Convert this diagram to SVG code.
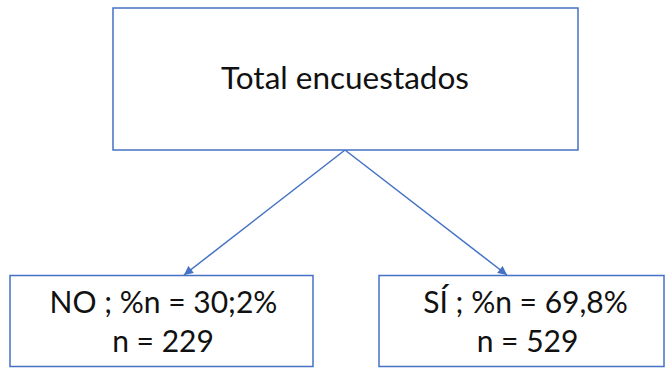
<svg xmlns="http://www.w3.org/2000/svg" width="665" height="368" viewBox="0 0 665 368">
<style>
.box{fill:#ffffff;stroke:#4472C4;stroke-width:1.5}
.lbl{font-family:Lato,"Open Sans","Liberation Sans",sans-serif;font-size:30px;fill:#111111;text-anchor:middle}
.big{font-size:31.5px}
.edge{stroke:#4472C4;stroke-width:1.5;fill:none}
</style>
<defs>
<marker id="ah" viewBox="0 0 10 10" refX="10" refY="5" markerWidth="10" markerHeight="9" orient="auto" markerUnits="userSpaceOnUse">
<path d="M0,0 L10,5 L0,10 z" fill="#4472C4"/>
</marker>
</defs>
<rect width="665" height="368" fill="#ffffff"/>
<g id="connectors">
<line class="edge" x1="345" y1="150" x2="184" y2="275" marker-end="url(#ah)"/>
<line class="edge" x1="345" y1="150" x2="507" y2="275" marker-end="url(#ah)"/>
</g>
<g id="total">
<rect class="box" x="113" y="8" width="465" height="142"/>
<text class="lbl big" x="345" y="89">Total encuestados</text>
</g>
<g id="no">
<rect class="box" x="10" y="275.5" width="303" height="91"/>
<text class="lbl" x="163.5" y="313">NO ; %n = 30;2%</text>
<text class="lbl" x="163" y="352">n = 229</text>
</g>
<g id="si">
<rect class="box" x="379" y="275.5" width="285" height="91"/>
<text class="lbl" x="525.5" y="313">SÍ ; %n = 69,8%</text>
<text class="lbl" x="527.5" y="352">n = 529</text>
</g>
</svg>
